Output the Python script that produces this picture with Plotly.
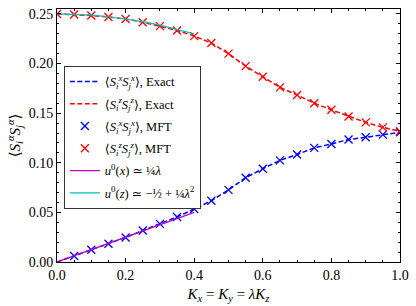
import plotly.graph_objects as go

# ---- data ----
lam = [0.0, 0.05, 0.10, 0.15, 0.20, 0.25, 0.30, 0.35, 0.40, 0.45, 0.50,
       0.55, 0.60, 0.65, 0.70, 0.75, 0.80, 0.85, 0.90, 0.95, 1.0]
sxx_exact = [0.0, 0.0060, 0.0124, 0.0184, 0.0247, 0.0317, 0.0384, 0.0454, 0.0534, 0.0617, 0.0727,
             0.0850, 0.0940, 0.1024, 0.1084, 0.1150, 0.1190, 0.1234, 0.1257, 0.1284, 0.1307]
szz_exact = [0.2500, 0.2494, 0.2484, 0.2470, 0.2450, 0.2417, 0.2377, 0.2334, 0.2277, 0.2207, 0.2100,
             0.1974, 0.1867, 0.1760, 0.1684, 0.1600, 0.1534, 0.1467, 0.1407, 0.1357, 0.1317]
sxx_mft = [0.0, 0.0060, 0.0124, 0.0184, 0.0247, 0.0317, 0.0384, 0.0454, 0.0534, 0.0617, 0.0727,
           0.0850, 0.0940, 0.1024, 0.1084, 0.1150, 0.1190, 0.1234, 0.1257, 0.1284, 0.1307]
szz_mft = [0.2500, 0.2494, 0.2484, 0.2470, 0.2450, 0.2417, 0.2377, 0.2334, 0.2277, 0.2207, 0.2100,
           0.1974, 0.1867, 0.1760, 0.1684, 0.1600, 0.1534, 0.1467, 0.1407, 0.1357, 0.1317]
lam_small = [0.0, 0.05, 0.10, 0.15, 0.20, 0.25, 0.30, 0.35, 0.40]
u0x = [0.0, 0.00625, 0.0125, 0.01875, 0.025, 0.03125, 0.0375, 0.04375, 0.05]
u0z = [0.25, 0.24969, 0.24875, 0.24719, 0.245, 0.24219, 0.23875, 0.23469, 0.23]

xticks = [0.0, 0.2, 0.4, 0.6, 0.8, 1.0]
xticklabels = ["0.0", "0.2", "0.4", "0.6", "0.8", "1.0"]
yticks = [0.0, 0.05, 0.10, 0.15, 0.20, 0.25]
yticklabels = ["0.00", "0.05", "0.10", "0.15", "0.20", "0.25"]

FONT = "Liberation Serif, DejaVu Serif, serif"
BLUE = "#0000ff"
RED = "#ff0000"
MAG = "#bf00bf"
CYAN = "#00bfbf"
DASH = "5px,2.5px"

fig = go.Figure()
fig.add_trace(go.Scatter(x=lam, y=sxx_exact, mode="lines", legendgroup="a",
                         line=dict(color=BLUE, width=1.5, dash=DASH),
                         name="⟨<i>S</i><sub><i>i</i></sub><sup><i>x</i></sup><i>S</i><sub><i>j</i></sub><sup><i>x</i></sup>⟩, Exact"))
fig.add_trace(go.Scatter(x=lam, y=szz_exact, mode="lines", legendgroup="b",
                         line=dict(color=RED, width=1.5, dash=DASH),
                         name="⟨<i>S</i><sub><i>i</i></sub><sup><i>z</i></sup><i>S</i><sub><i>j</i></sub><sup><i>z</i></sup>⟩, Exact"))
fig.add_trace(go.Scatter(x=lam[1:], y=sxx_mft[1:], mode="markers", legendgroup="c",
                         marker=dict(symbol="x-thin", size=8, line=dict(color=BLUE, width=1.3)),
                         name="⟨<i>S</i><sub><i>i</i></sub><sup><i>x</i></sup><i>S</i><sub><i>j</i></sub><sup><i>x</i></sup>⟩, MFT"))
fig.add_trace(go.Scatter(x=lam, y=szz_mft, mode="markers", legendgroup="d",
                         marker=dict(symbol="x-thin", size=8, line=dict(color=RED, width=1.3)),
                         name="⟨<i>S</i><sub><i>i</i></sub><sup><i>z</i></sup><i>S</i><sub><i>j</i></sub><sup><i>z</i></sup>⟩, MFT"))
fig.add_trace(go.Scatter(x=lam_small, y=u0x, mode="lines", legendgroup="e",
                         line=dict(color=MAG, width=1.2),
                         name="<i>u</i><sup>0</sup>(<i>x</i>) ≃ ¼<i>λ</i>"))
fig.add_trace(go.Scatter(x=lam_small, y=u0z, mode="lines", legendgroup="f",
                         line=dict(color=CYAN, width=1.2),
                         name="<i>u</i><sup>0</sup>(<i>z</i>) ≃ −½ + ¼<i>λ</i><sup>2</sup>"))

axis_common = dict(showline=True, linecolor="black", linewidth=1, mirror="ticks",
                   ticks="inside", ticklen=4, tickcolor="black", showgrid=False,
                   zeroline=False, tickfont=dict(family=FONT, size=14, color="black"))

fig.update_xaxes(range=[0, 1], tickvals=xticks, ticktext=xticklabels,
                 minor=dict(ticks="inside", dtick=0.05, ticklen=2, tickcolor="black"),
                 title=dict(text="<i>K<sub>x</sub></i> = <i>K<sub>y</sub></i> = <i>λK<sub>z</sub></i>",
                            font=dict(family=FONT, size=15, color="black"), standoff=6),
                 **axis_common)
fig.update_yaxes(range=[0, 0.255], tickvals=yticks, ticktext=yticklabels,
                 minor=dict(ticks="inside", dtick=0.01, ticklen=2, tickcolor="black"),
                 title=dict(text="⟨<i>S</i><sub><i>i</i></sub><sup><i>α</i></sup><i>S</i><sub><i>j</i></sub><sup><i>α</i></sup>⟩",
                            font=dict(family=FONT, size=15, color="black"), standoff=4),
                 **axis_common)

fig.update_layout(
    width=416, height=306,
    margin=dict(l=57, r=15, t=7, b=44),
    plot_bgcolor="white", paper_bgcolor="white",
    font=dict(family=FONT, size=13, color="black"),
    showlegend=True,
    legend=dict(x=0.02, y=0.775, xanchor="left", yanchor="top",
                bgcolor="white", bordercolor="#333333", borderwidth=1,
                font=dict(family=FONT, size=12.5, color="black"),
                traceorder="grouped", tracegroupgap=3),
)

fig.write_html("out.html", config={"displayModeBar": False},
               post_script="document.body.style.margin='0';document.body.style.padding='0';")
